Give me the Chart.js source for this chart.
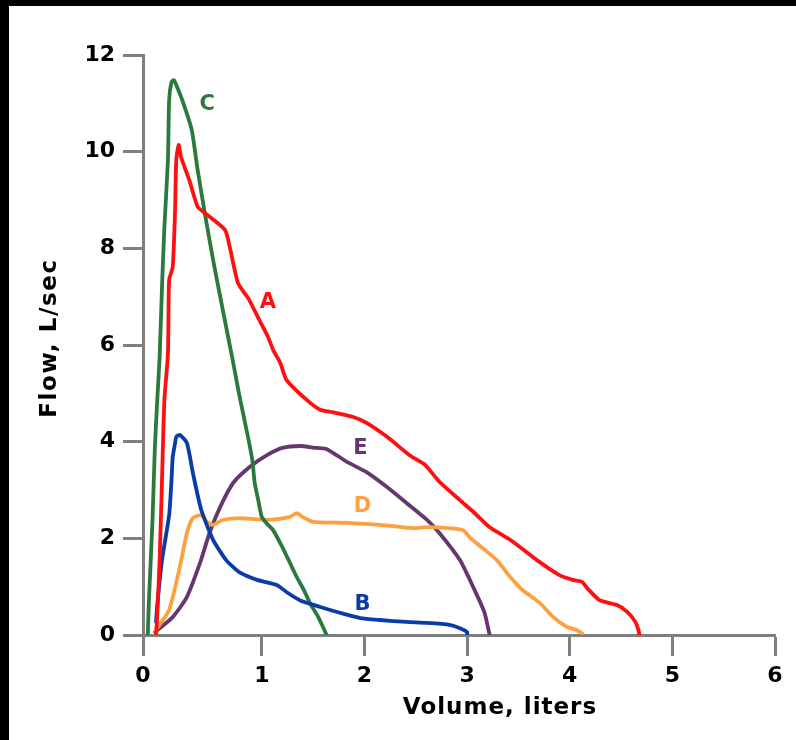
<!DOCTYPE html>
<html>
<head>
<meta charset="utf-8">
<script src="https://cdn.jsdelivr.net/npm/chart.js@4/dist/chart.umd.min.js"></script>
<style>
  html, body { margin: 0; padding: 0; background: #ffffff; }
  #wrap { width: 796px; height: 740px; }
</style>
</head>
<body>
<div id="wrap"><canvas id="c" width="796" height="740"></canvas></div>
<script>
// ---------------- DATA ----------------
const xTicks = [0, 1, 2, 3, 4, 5, 6];
const yTicks = [0, 2, 4, 6, 8, 10, 12];
const xTitle = "Volume, liters";
const yTitle = "Flow, L/sec";

const seriesNames = ["A", "B", "C", "D", "E"];

const aVolume = [0.11,0.12,0.14,0.16,0.18,0.21,0.22,0.25,0.27,0.28,0.30,0.32,0.39,0.46,0.52,0.69,0.73,0.80,0.89,0.97,1.06,1.11,1.18,1.24,1.44,1.57,1.69,1.89,2.02,2.22,2.44,2.59,2.73,2.93,3.06,3.22,3.42,3.68,3.90,4.03,4.12,4.17,4.29,4.46,4.56,4.64,4.67,4.68];
const aFlow   = [0,0.41,1.55,3.21,4.86,5.83,7.35,7.61,8.79,9.83,10.14,9.89,9.41,8.86,8.73,8.38,8.03,7.28,6.95,6.56,6.17,5.90,5.63,5.28,4.86,4.66,4.61,4.51,4.39,4.10,3.72,3.52,3.17,2.79,2.55,2.23,1.97,1.55,1.24,1.14,1.10,0.97,0.72,0.62,0.48,0.27,0.10,0];

const bVolume = [0.11,0.12,0.16,0.22,0.24,0.25,0.27,0.28,0.31,0.37,0.42,0.49,0.59,0.70,0.81,0.96,1.15,1.24,1.37,1.57,1.76,1.96,2.15,2.41,2.61,2.83,2.93,3.00,3.00];
const bFlow   = [0.27,0.62,1.55,2.48,3.21,3.68,3.97,4.10,4.14,3.97,3.35,2.59,1.97,1.55,1.30,1.14,1.03,0.89,0.72,0.58,0.46,0.35,0.31,0.27,0.25,0.21,0.14,0.06,0];

const cVolume = [0.04,0.05,0.08,0.10,0.12,0.14,0.16,0.18,0.21,0.22,0.24,0.26,0.28,0.33,0.41,0.46,0.52,0.59,0.66,0.75,0.81,0.88,0.92,0.94,0.97,1.00,1.06,1.11,1.20,1.27,1.34,1.41,1.47,1.55,1.61,1.63];
const cFlow   = [0,0.72,2.38,3.89,4.86,5.75,7.20,8.44,9.83,11.07,11.44,11.48,11.38,11.07,10.45,9.62,8.73,7.76,6.87,5.75,4.97,4.14,3.62,3.15,2.79,2.44,2.28,2.17,1.82,1.51,1.20,0.93,0.66,0.37,0.10,0];

const dVolume = [0.10,0.11,0.22,0.31,0.37,0.42,0.49,0.54,0.59,0.67,0.81,1.05,1.27,1.34,1.40,1.50,1.83,2.15,2.47,2.64,2.96,3.03,3.15,3.29,3.42,3.54,3.71,3.84,3.97,4.07,4.12];
const dFlow   = [0,0.10,0.52,1.41,2.11,2.42,2.48,2.34,2.28,2.38,2.42,2.38,2.44,2.52,2.44,2.34,2.32,2.28,2.21,2.23,2.17,2.01,1.80,1.55,1.20,0.93,0.66,0.37,0.17,0.10,0.04];

const eVolume = [0.10,0.25,0.37,0.48,0.56,0.65,0.76,0.90,1.05,1.20,1.37,1.53,1.63,1.83,2.02,2.22,2.41,2.61,2.73,2.93,3.06,3.17,3.22];
const eFlow   = [0.06,0.37,0.79,1.49,2.11,2.65,3.15,3.48,3.72,3.87,3.91,3.87,3.85,3.58,3.37,3.06,2.73,2.38,2.11,1.55,0.99,0.46,0];

// where each curve's letter sits, in data units
const labelVolume = [1.06, 1.98, 0.54, 1.98, 1.96];
const labelFlow   = [6.87, 0.62, 10.97, 2.65, 3.85];

// ---------------- STYLE ----------------
const seriesColors = ["#ff1010", "#0a3ca8", "#2a7a3e", "#ffa040", "#66366f"];
const AXIS_GRAY = "#7f7f7f";
const FONT = "'DejaVu Sans', Verdana, sans-serif";
// the printed axis gives the first litre more room than the others
const FIRST_UNIT_FRACTION = 0.188;

class PiecewiseScale extends Chart.LinearScale {
  getPixelForValue(value) {
    const min = this.min, max = this.max;
    let dec;
    if (value <= 1) dec = (value - min) / (1 - min) * FIRST_UNIT_FRACTION;
    else dec = FIRST_UNIT_FRACTION + (value - 1) / (max - 1) * (1 - FIRST_UNIT_FRACTION);
    return this.getPixelForDecimal(dec);
  }
  getValueForPixel(pixel) {
    const dec = this.getDecimalForPixel(pixel);
    const min = this.min, max = this.max;
    if (dec <= FIRST_UNIT_FRACTION) return min + dec / FIRST_UNIT_FRACTION * (1 - min);
    return 1 + (dec - FIRST_UNIT_FRACTION) / (1 - FIRST_UNIT_FRACTION) * (max - 1);
  }
}
PiecewiseScale.id = 'piecewise';
PiecewiseScale.defaults = Chart.LinearScale.defaults;
Chart.register(PiecewiseScale);

const vols = [aVolume, bVolume, cVolume, dVolume, eVolume];
const flows = [aFlow, bFlow, cFlow, dFlow, eFlow];

const datasets = seriesNames.map((name, i) => ({
  label: name,
  data: vols[i].map((v, j) => ({ x: v, y: flows[i][j] })),
  borderColor: seriesColors[i],
  backgroundColor: seriesColors[i],
  borderWidth: 3.8,
  pointRadius: 0,
  tension: 0.2,
  fill: false,
  borderJoinStyle: 'round',
  borderCapStyle: 'round'
}));

const framePlugin = {
  id: 'frame',
  beforeDraw(chart) {
    const ctx = chart.ctx;
    ctx.save();
    ctx.fillStyle = '#ffffff';
    ctx.fillRect(0, 0, chart.width, chart.height);
    ctx.fillStyle = '#000000';
    ctx.fillRect(0, 0, chart.width, 6);
    ctx.fillRect(0, 0, 9, chart.height);
    ctx.restore();
  },
  afterDraw(chart) {
    const ctx = chart.ctx;
    const xs = chart.scales.x, ys = chart.scales.y;
    ctx.save();
    ctx.fillStyle = '#000000';
    ctx.font = "bold 23px " + FONT;
    ctx.textAlign = 'center';
    ctx.textBaseline = 'middle';
    ctx.letterSpacing = '1px';
    ctx.fillText(xTitle, 500, 708);
    ctx.letterSpacing = '1.6px';
    ctx.translate(50, 338);
    ctx.rotate(-Math.PI / 2);
    ctx.fillText(yTitle, 0, 0);
    ctx.restore();

    ctx.save();
    ctx.font = "bold 21px " + FONT;
    ctx.textAlign = 'center';
    ctx.textBaseline = 'middle';
    seriesNames.forEach((n, i) => {
      ctx.fillStyle = seriesColors[i];
      ctx.fillText(n, xs.getPixelForValue(labelVolume[i]), ys.getPixelForValue(labelFlow[i]));
    });
    ctx.restore();
  }
};

new Chart(document.getElementById('c'), {
  type: 'line',
  data: { datasets },
  plugins: [framePlugin],
  options: {
    responsive: false,
    devicePixelRatio: 1,
    animation: false,
    layout: { padding: { left: 0, right: 21, top: 55, bottom: 0 } },
    plugins: { legend: { display: false }, tooltip: { enabled: false }, title: { display: false } },
    scales: {
      x: {
        type: 'piecewise',
        min: 0, max: 6,
        afterBuildTicks(scale) { scale.ticks = xTicks.map(v => ({ value: v })); },
        afterFit(scale) { scale.height = 105; },
        ticks: { color: '#000000', font: { family: FONT, size: 22, weight: 'bold' }, padding: 7, maxRotation: 0, autoSkip: false },
        grid: { drawOnChartArea: false, drawTicks: true, tickLength: 21, tickWidth: 3, tickColor: AXIS_GRAY },
        border: { display: true, color: AXIS_GRAY, width: 3 }
      },
      y: {
        type: 'linear',
        min: 0, max: 12,
        afterBuildTicks(scale) { scale.ticks = yTicks.map(v => ({ value: v })); },
        afterFit(scale) { scale.width = 143; },
        ticks: { color: '#000000', font: { family: FONT, size: 22, weight: 'bold' }, padding: 8, autoSkip: false },
        grid: { drawOnChartArea: false, drawTicks: true, tickLength: 20, tickWidth: 3, tickColor: AXIS_GRAY },
        border: { display: true, color: AXIS_GRAY, width: 3 }
      }
    }
  }
});
</script>
</body>
</html>
